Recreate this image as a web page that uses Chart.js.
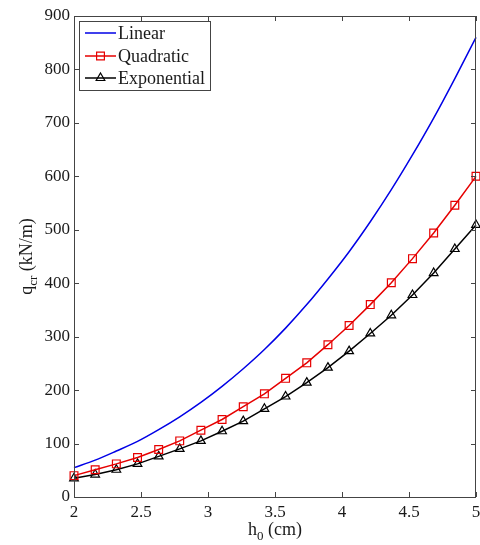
<!DOCTYPE html>
<html>
<head>
<meta charset="utf-8">
<script src="https://cdn.jsdelivr.net/npm/chart.js@4"></script>
<style>
  body { margin: 0; background: #fff; }
  canvas { display: block; }
</style>
</head>
<body>
<canvas id="chart" width="480" height="545"></canvas>
<script>
// h0 (cm) sample points
const h0 = [2, 2.158, 2.316, 2.474, 2.632, 2.789, 2.947, 3.105, 3.263, 3.421,
            3.579, 3.737, 3.895, 4.053, 4.211, 4.368, 4.526, 4.684, 4.842, 5]

// q_cr (kN/m)
const linear = [55, 69, 86, 104, 126, 150, 177, 207, 240, 276,
                316, 360, 408, 459, 515, 575, 640, 709, 783, 860]
const quadratic = [40, 51, 62, 74, 89, 105, 125, 145, 169, 193,
                   222, 251, 285, 321, 360, 401, 446, 494, 546, 600]
const exponential = [35, 42, 51, 62, 76, 90, 105, 123, 142, 165,
                     188, 214, 242, 273, 306, 340, 378, 419, 464, 509]

const xTicks = [2, 2.5, 3, 3.5, 4, 4.5, 5]
const yTicks = [0, 100, 200, 300, 400, 500, 600, 700, 800, 900]
const seriesNames = ['Linear', 'Quadratic', 'Exponential']

const serif = "'Liberation Serif', 'Times New Roman', serif"
const axisColor = '#444'
const textColor = '#1a1a1a'

const toPoints = ys => ys.map((y, i) => ({ x: h0[i], y }))

// text with a subscript, e.g. h_0, returns total width
function subText(ctx, parts, x, y, draw) {
  let cx = x
  parts.forEach(p => {
    ctx.font = p.sub ? `13px ${serif}` : `18px ${serif}`
    if (draw) ctx.fillText(p.t, cx, y + (p.sub ? 5 : 0))
    cx += ctx.measureText(p.t).width
  })
  return cx - x
}

// MATLAB-like frame: box, inward ticks, axis titles, legend in the corner
const frame = {
  id: 'frame',
  afterDraw(chart) {
    const { ctx, chartArea: a, scales: { x, y } } = chart
    ctx.save()
    ctx.strokeStyle = axisColor
    ctx.lineWidth = 1
    ctx.strokeRect(a.left + 0.5, a.top + 0.5, a.right - a.left - 1, a.bottom - a.top)

    ctx.beginPath()
    xTicks.forEach(v => {
      const px = Math.round(x.getPixelForValue(v)) + 0.5
      ctx.moveTo(px, a.bottom); ctx.lineTo(px, a.bottom - 5)
      ctx.moveTo(px, a.top); ctx.lineTo(px, a.top + 5)
    })
    yTicks.forEach(v => {
      const py = Math.round(y.getPixelForValue(v)) + 0.5
      ctx.moveTo(a.left, py); ctx.lineTo(a.left + 5, py)
      ctx.moveTo(a.right, py); ctx.lineTo(a.right - 5, py)
    })
    ctx.stroke()

    // axis titles
    ctx.fillStyle = textColor
    ctx.textBaseline = 'alphabetic'
    ctx.textAlign = 'left'
    const xParts = [{ t: 'h' }, { t: '0', sub: true }, { t: ' (cm)' }]
    const xw = subText(ctx, xParts, 0, 0, false)
    subText(ctx, xParts, (a.left + a.right) / 2 - xw / 2, 535, true)

    const yParts = [{ t: 'q' }, { t: 'cr', sub: true }, { t: ' (kN/m)' }]
    const yw = subText(ctx, yParts, 0, 0, false)
    ctx.save()
    ctx.translate(32, (a.top + a.bottom) / 2)
    ctx.rotate(-Math.PI / 2)
    subText(ctx, yParts, -yw / 2, 0, true)
    ctx.restore()

    // legend
    ctx.fillStyle = '#fff'
    ctx.fillRect(79.5, 21.5, 131, 69)
    ctx.strokeStyle = axisColor
    ctx.strokeRect(79.5, 21.5, 131, 69)
    const rows = [33, 56, 78]
    chart.data.datasets.forEach((ds, i) => {
      const ry = rows[i]
      ctx.strokeStyle = ds.borderColor
      ctx.lineWidth = ds.borderWidth
      ctx.beginPath()
      ctx.moveTo(85, ry); ctx.lineTo(116, ry)
      ctx.stroke()
      if (ds.pointRadius > 0) {
        ctx.fillStyle = 'rgba(0,0,0,0)'
        ctx.lineWidth = ds.pointBorderWidth
        Chart.helpers.drawPoint(ctx, {
          pointStyle: ds.pointStyle, radius: ds.pointRadius,
          rotation: 0, borderWidth: ds.pointBorderWidth
        }, 100.5, ry)
      }
      ctx.fillStyle = textColor
      ctx.font = `18px ${serif}`
      ctx.textBaseline = 'middle'
      ctx.fillText(seriesNames[i], 118, ry + 1)
    })
    ctx.restore()
  }
}

new Chart(document.getElementById('chart'), {
  type: 'line',
  data: {
    datasets: [{
      label: seriesNames[0],
      data: toPoints(linear),
      borderColor: '#0000e6',
      borderWidth: 1.5,
      pointRadius: 0,
      cubicInterpolationMode: 'monotone',
      clip: false
    }, {
      label: seriesNames[1],
      data: toPoints(quadratic),
      borderColor: '#e60000',
      borderWidth: 1.5,
      pointStyle: 'rect',
      pointRadius: 5.5,
      pointBorderWidth: 1.2,
      pointBackgroundColor: 'rgba(0,0,0,0)',
      pointBorderColor: '#e60000',
      tension: 0,
      clip: false
    }, {
      label: seriesNames[2],
      data: toPoints(exponential),
      borderColor: '#000',
      borderWidth: 1.5,
      pointStyle: 'triangle',
      pointRadius: 5,
      pointBorderWidth: 1.2,
      pointBackgroundColor: 'rgba(0,0,0,0)',
      pointBorderColor: '#000',
      tension: 0,
      clip: false
    }]
  },
  options: {
    responsive: false,
    animation: false,
    events: [],
    // no auto padding: the point overflow and the last tick label would shrink the plot
    layout: { autoPadding: false, padding: { top: 16, right: 4, left: 0, bottom: 0 } },
    plugins: { legend: { display: false }, tooltip: { enabled: false } },
    scales: {
      x: {
        type: 'linear',
        min: 2,
        max: 5,
        afterBuildTicks: s => { s.ticks = xTicks.map(v => ({ value: v })) },
        afterFit: s => { s.height = 48; s.paddingLeft = 0; s.paddingRight = 0 },
        grid: { display: false, drawTicks: false },
        border: { display: false },
        ticks: {
          padding: 5, color: textColor, font: { family: serif, size: 17 },
          callback: v => String(v)
        }
      },
      y: {
        min: 0,
        max: 900,
        afterBuildTicks: s => { s.ticks = yTicks.map(v => ({ value: v })) },
        afterFit: s => { s.width = 74; s.paddingTop = 0; s.paddingBottom = 0 },
        grid: { display: false, drawTicks: false },
        border: { display: false },
        ticks: {
          padding: 4, color: textColor, font: { family: serif, size: 17 },
          callback: v => String(v)
        }
      }
    }
  },
  plugins: [frame]
})
</script>
</body>
</html>
